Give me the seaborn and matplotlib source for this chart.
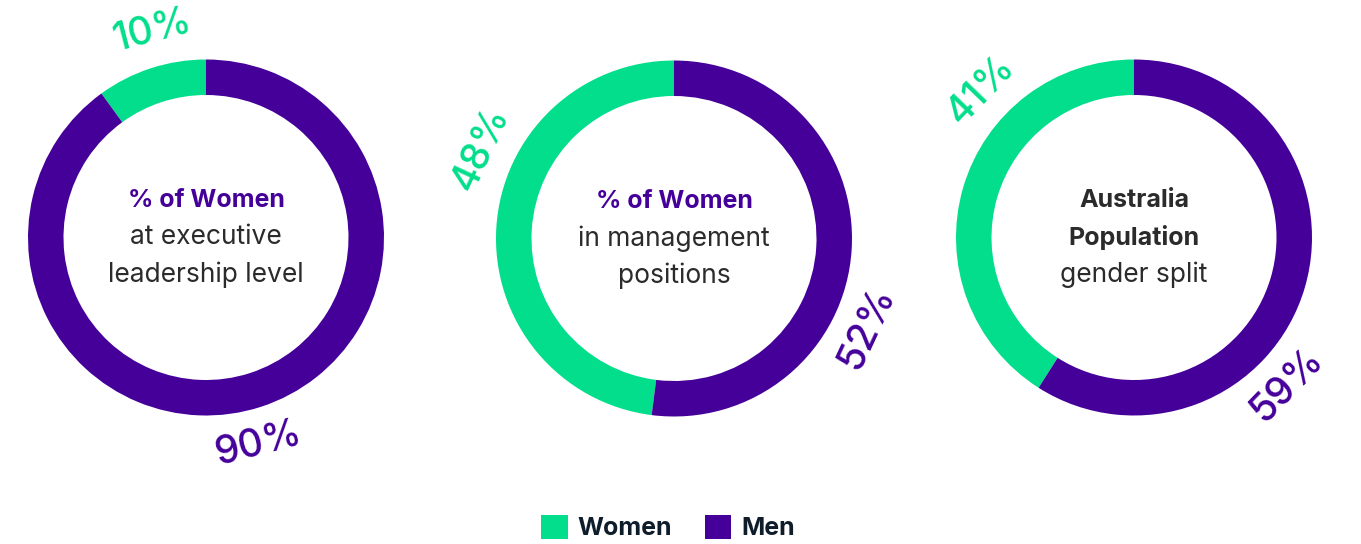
import matplotlib
matplotlib.use("Agg")
import matplotlib.pyplot as plt
import seaborn as sns
from matplotlib.patches import Patch
import numpy as np

# data
groups = ["Women", "Men"]
women_pct = [10, 48, 41]
men_pct = [90, 52, 59]
titles_bold = [["% of Women"], ["% of Women"], ["Australia", "Population"]]
titles_rest = [["at executive", "leadership level"], ["in management", "positions"], ["gender split"]]

GREEN = "#02de8b"
PURPLE = "#45009a"
DARK = "#2b2b2b"

sns.set_theme(style="white")
plt.rcParams["font.family"] = ["Inter", "DejaVu Sans"]
palette = sns.color_palette([GREEN, PURPLE])

W, H = 1361, 544
fig = plt.figure(figsize=(W / 100, H / 100), dpi=100)
ax = fig.add_axes([0, 0, 1, 1])

# layout (pixels, y measured from bottom)
centers = [(206, H - 237.5), (674, H - 238.5), (1134, H - 237.5)]
r_out, ring = 178, 35.5
label_r = 213
label_angle = [104.5, 155, 136]   # where the women label sits, men label opposite
title_color = [PURPLE, PURPLE, DARK]

for i in range(3):
    cx, cy = centers[i]
    ax.pie([women_pct[i], men_pct[i]], colors=palette, startangle=90, counterclock=True,
           radius=r_out, center=(cx, cy), wedgeprops=dict(width=ring, edgecolor="none"))
    # percent labels, tangent to the ring
    for k, (val, col) in enumerate(zip([women_pct[i], men_pct[i]], palette)):
        a = label_angle[i] + 180 * k
        t = np.deg2rad(a)
        rot = a - 90 if k == 0 else a + 90
        ax.text(cx + label_r * np.cos(t), cy + label_r * np.sin(t), f"{val}%",
                color=col, fontsize=28, fontweight=500, rotation=rot,
                rotation_mode="anchor", ha="center", va="center")
    # centre text
    lines = [(s, "bold", title_color[i], 18) for s in titles_bold[i]] + \
            [(s, "normal", DARK, 19) for s in titles_rest[i]]
    for j, (s, wt, c, fs) in enumerate(lines):
        ax.text(cx, cy + 37 * (1 - j), s, ha="center", va="center",
                fontsize=fs, fontweight=wt, color=c)

ax.set_xlim(0, W)
ax.set_ylim(0, H)
ax.set_aspect("auto")
ax.axis("off")

handles = [Patch(facecolor=c, edgecolor="none", label=g) for g, c in zip(groups, palette)]
leg = ax.legend(handles=handles, loc="center", bbox_to_anchor=(668 / W, 16.5 / H), ncol=2,
                frameon=False, fontsize=18, handlelength=1.05, handleheight=1.1,
                handletextpad=0.4, columnspacing=1.3, borderpad=0)
for t in leg.get_texts():
    t.set_fontweight("bold")
    t.set_color("#0f1c2a")

fig.savefig("out.png", dpi=100)
